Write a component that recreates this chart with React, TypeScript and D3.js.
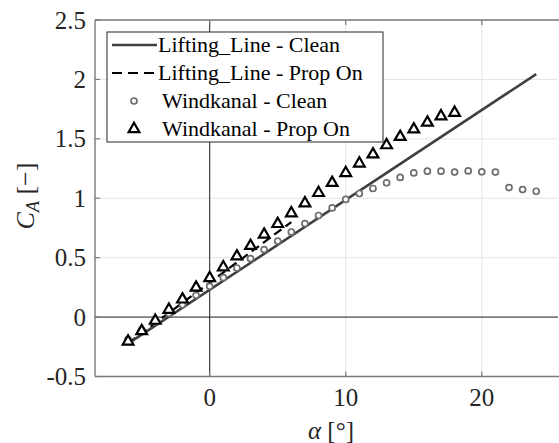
import * as React from 'react';
import * as d3 from 'd3';

// lifting line model (straight lines)
const llCleanAlpha = [-6, 24];
const llCleanCA = [-0.224, 2.045];
const llPropAlpha = [-6, 6];
const llPropCA = [-0.22, 0.8];

// wind tunnel, clean
const wkCleanAlpha = [-6, -5, -4, -3, -2, -1, 0, 1, 2, 3, 4, 5, 6, 7, 8, 9, 10, 11, 12, 13, 14, 15, 16, 17, 18, 19, 20, 21, 22, 23, 24];
const wkCleanCA = [-0.19, -0.11, -0.04, 0.03, 0.103, 0.183, 0.259, 0.332, 0.413, 0.492, 0.568, 0.64, 0.716, 0.787, 0.855, 0.919, 0.99, 1.04, 1.082, 1.13, 1.175, 1.213, 1.228, 1.228, 1.22, 1.23, 1.222, 1.22, 1.09, 1.073, 1.059];

// wind tunnel, prop on
const wkPropAlpha = [-6, -5, -4, -3, -2, -1, 0, 1, 2, 3, 4, 5, 6, 7, 8, 9, 10, 11, 12, 13, 14, 15, 16, 17, 18];
const wkPropCA = [-0.205, -0.118, -0.03, 0.062, 0.149, 0.248, 0.329, 0.42, 0.511, 0.6, 0.694, 0.784, 0.874, 0.958, 1.045, 1.13, 1.213, 1.293, 1.37, 1.447, 1.517, 1.58, 1.637, 1.69, 1.72];

const yTicks = [-0.5, 0, 0.5, 1, 1.5, 2, 2.5];
const yTickLabels = ['-0.5', '0', '0.5', '1', '1.5', '2', '2.5'];
const xTicks = [0, 10, 20];

const legendLabels = ['Lifting_Line - Clean', 'Lifting_Line - Prop On', 'Windkanal - Clean', 'Windkanal - Prop On'];

const W = 559;
const H = 443;
const left = 95;
const right = 558;
const top = 20;
const bottom = 376.5;
const FONT = 'Liberation Serif';

export default function App() {
  React.useEffect(() => {
    document.body.style.margin = '0';
  }, []);

  const x = d3.scaleLinear().domain([-8.43, 25.6]).range([left, right]);
  const y = d3.scaleLinear().domain([-0.5, 2.5]).range([bottom, top]);

  const line = d3.line<[number, number]>().x(d => x(d[0])).y(d => y(d[1]));
  const llClean = llCleanAlpha.map((a, i) => [a, llCleanCA[i]] as [number, number]);
  const llProp = llPropAlpha.map((a, i) => [a, llPropCA[i]] as [number, number]);
  const tri = d3.symbol().type(d3.symbolTriangle).size(50)();

  const axisColor = '#7a7a7a';

  return (
    <svg width={W} height={H} style={{ display: 'block', background: '#fff' }}>
      {/* grid */}
      {yTicks.map(t => (
        <line key={'gy' + t} x1={left} x2={right} y1={y(t)} y2={y(t)} stroke="#e4e4e4" strokeWidth={1} />
      ))}
      {xTicks.map(t => (
        <line key={'gx' + t} x1={x(t)} x2={x(t)} y1={top} y2={bottom} stroke="#e4e4e4" strokeWidth={1} />
      ))}
      {/* zero lines */}
      <line x1={x(0)} x2={x(0)} y1={top} y2={bottom} stroke="#262626" strokeWidth={1} />
      <line x1={left} x2={right} y1={y(0)} y2={y(0)} stroke="#262626" strokeWidth={1} />

      {/* lifting line */}
      <path d={line(llProp) || ''} fill="none" stroke="#000" strokeWidth={2.2} strokeDasharray="9,5" />
      <path d={line(llClean) || ''} fill="none" stroke="#404040" strokeWidth={2.6} />

      {/* wind tunnel markers */}
      {wkCleanAlpha.map((a, i) => (
        <circle key={'c' + i} cx={x(a)} cy={y(wkCleanCA[i])} r={3} fill="#fff" stroke="#6e6e6e" strokeWidth={1.7} />
      ))}
      {wkPropAlpha.map((a, i) => (
        <path key={'t' + i} d={tri || ''} transform={`translate(${x(a)},${y(wkPropCA[i])})`} fill="#fff" stroke="#000" strokeWidth={2.2} />
      ))}

      {/* axes box */}
      <line x1={left} x2={left} y1={top} y2={bottom} stroke={axisColor} strokeWidth={1.4} />
      <line x1={left} x2={right + 1} y1={bottom} y2={bottom} stroke={axisColor} strokeWidth={1.4} />
      <line x1={left} x2={right + 1} y1={top} y2={top} stroke={axisColor} strokeWidth={1.4} />
      {yTicks.map(t => (
        <line key={'ty' + t} x1={left} x2={left + 5} y1={y(t)} y2={y(t)} stroke={axisColor} strokeWidth={1.2} />
      ))}
      {xTicks.map(t => (
        <g key={'tx' + t}>
          <line x1={x(t)} x2={x(t)} y1={bottom} y2={bottom - 5} stroke={axisColor} strokeWidth={1.2} />
          <line x1={x(t)} x2={x(t)} y1={top} y2={top + 5} stroke={axisColor} strokeWidth={1.2} />
        </g>
      ))}

      {/* tick labels */}
      {yTicks.map((t, i) => (
        <text key={'ly' + t} x={86} y={y(t)} dy="0.34em" textAnchor="end" fontSize={25} fill="#262626" fontFamily={FONT} style={{ fontFamily: `'${FONT}'` }}>
          {yTickLabels[i]}
        </text>
      ))}
      {xTicks.map(t => (
        <text key={'lx' + t} x={x(t)} y={406} textAnchor="middle" fontSize={25} fill="#262626" fontFamily={FONT} style={{ fontFamily: `'${FONT}'` }}>
          {t}
        </text>
      ))}

      {/* axis labels */}
      <text x={331} y={439} textAnchor="middle" fontSize={25} fill="#262626" fontFamily={FONT} style={{ fontFamily: `'${FONT}'` }}>
        <tspan fontStyle="italic">α</tspan> [°]
      </text>
      <text transform="translate(34,196) rotate(-90)" textAnchor="middle" fontSize={26} fill="#262626" fontFamily={FONT} style={{ fontFamily: `'${FONT}'` }}>
        <tspan fontStyle="italic">C</tspan>
        <tspan fontStyle="italic" fontSize={18} dy="5">A</tspan>
        <tspan dy="-5"> [−]</tspan>
      </text>

      {/* legend */}
      <rect x={107} y={32} width={276} height={110} fill="#fff" stroke="#262626" strokeWidth={1} />
      <line x1={112} x2={157} y1={45} y2={45} stroke="#404040" strokeWidth={2.6} />
      <line x1={112} x2={157} y1={73} y2={73} stroke="#000" strokeWidth={2.2} strokeDasharray="10,6" />
      <circle cx={134} cy={101} r={3} fill="#fff" stroke="#6e6e6e" strokeWidth={1.7} />
      <path d={tri || ''} transform="translate(134,129)" fill="#fff" stroke="#000" strokeWidth={2.2} />
      {legendLabels.map((l, i) => (
        <text key={l} x={i < 2 ? 158 : 162} y={52 + i * 28} fontSize={22} fill="#000" fontFamily={FONT} style={{ fontFamily: `'${FONT}'` }}>
          {l}
        </text>
      ))}
    </svg>
  );
}
